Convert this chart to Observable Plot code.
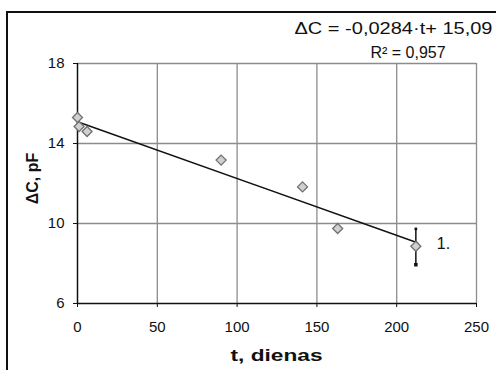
<!DOCTYPE html>
<html>
<head>
<meta charset="utf-8">
<script src="https://cdn.jsdelivr.net/npm/d3@7"></script>
<script src="https://cdn.jsdelivr.net/npm/@observablehq/plot@0.6"></script>
<style>
  html, body { margin: 0; padding: 0; background: #fff; width: 496px; height: 370px; overflow: hidden; }
  #frame { position: absolute; left: 6px; top: 11px; width: 520px; height: 400px; border: 2px solid #111; box-sizing: border-box; }
  #chart { position: absolute; left: 0; top: 0; }
</style>
</head>
<body>
<div id="frame"></div>
<div id="chart"></div>
<script>
// ---- data ----
const tVals = [0, 1, 6, 90, 141, 163, 212];
const cVals = [15.3, 14.85, 14.6, 13.17, 11.83, 9.75, 8.86];
const xTicks = [0, 50, 100, 150, 200, 250];
const yTicks = [6, 10, 14, 18];
const trendT = [0, 213];
const trendC = [15.09, 9.04];
const errT = [212];
const errC = [8.86];
const errLow = [7.94];
const errHigh = [9.73];
const equationText = "ΔC = -0,0284·t+ 15,09";
const r2Text = "R² = 0,957";
const pointLabel = "1.";
const xLabel = "t, dienas";
const yLabel = "ΔC, pF";

const points = tVals.map((t, i) => ({t, c: cVals[i]}));
const trend = trendT.map((t, i) => ({t, c: trendC[i]}));
const errs = errT.map((t, i) => ({t, c: errC[i], lo: errLow[i], hi: errHigh[i]}));
const font = "'Liberation Sans', Arial, sans-serif";

const chart = Plot.plot({
  width: 496,
  height: 370,
  marginLeft: 77,
  marginRight: 20,
  marginTop: 63,
  marginBottom: 67,
  style: {fontFamily: font, fontSize: "15px", background: "transparent", color: "#111", overflow: "visible"},
  x: {domain: [0, 250], ticks: xTicks, tickSize: 4, tickPadding: 14, label: null},
  y: {domain: [6, 18], ticks: yTicks, tickSize: 4, tickPadding: 9, label: null},
  marks: [
    Plot.ruleX(xTicks.slice(1), {stroke: "#8c8c8c", strokeWidth: 1.3}),
    Plot.ruleY(yTicks.slice(1), {stroke: "#8c8c8c", strokeWidth: 1.3}),
    Plot.ruleX([xTicks[0]], {stroke: "#111", strokeWidth: 1.5}),
    Plot.ruleY([yTicks[0]], {stroke: "#111", strokeWidth: 1.5}),
    Plot.ruleX(errs, {x: "t", y1: "lo", y2: "hi", stroke: "#111", strokeWidth: 1.5}),
    Plot.dot(errs, {x: "t", y: "lo", symbol: "square", r: 2, fill: "#111", stroke: "none"}),
    Plot.dot(errs, {x: "t", y: "hi", symbol: "square", r: 1.5, fill: "#111", stroke: "none"}),
    Plot.line(trend, {x: "t", y: "c", stroke: "#111", strokeWidth: 1.5}),
    Plot.dot(points, {x: "t", y: "c", symbol: "diamond2", r: 4.5, fill: "#d0d0d0", stroke: "#707070", strokeWidth: 1.3}),
    Plot.text(errs, {x: "t", y: "c", text: () => pointLabel, dx: 21, dy: -2, textAnchor: "start", fontSize: 16, fill: "#111"}),
    Plot.text([equationText], {frameAnchor: "top-right", dx: -182, dy: -35, textAnchor: "start", lineAnchor: "middle", fontSize: 16, fill: "#111"}),
    Plot.text([r2Text], {frameAnchor: "top-right", dx: -106, dy: -10.5, textAnchor: "start", lineAnchor: "middle", fontSize: 16, fill: "#111"}),
    Plot.text([xLabel], {frameAnchor: "bottom-left", dx: 153, dy: 52, textAnchor: "start", lineAnchor: "middle", fontSize: 17, fontWeight: "bold", fill: "#111"}),
    Plot.text([yLabel], {frameAnchor: "left", dx: -45, dy: -5, rotate: -90, textAnchor: "middle", lineAnchor: "middle", fontSize: 16, fontWeight: "bold", fill: "#111"})
  ]
});

// stretch wide texts to the widths seen in the reference
const stretch = {[equationText]: 198, [xLabel]: 92};
d3.select(chart).selectAll("text").each(function () {
  const w = stretch[this.textContent];
  if (w) d3.select(this).attr("textLength", w).attr("lengthAdjust", "spacingAndGlyphs");
});

document.getElementById("chart").appendChild(chart);
</script>
</body>
</html>
